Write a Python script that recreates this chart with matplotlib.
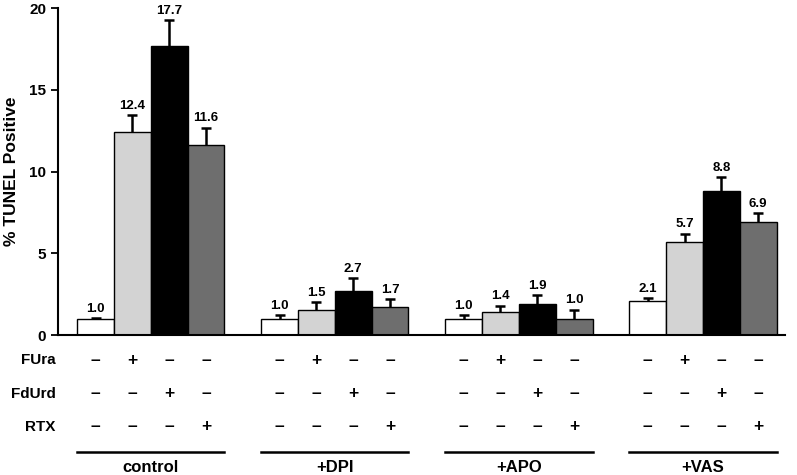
import numpy as np
import matplotlib.pyplot as plt

plt.rcParams['font.family'] = ['Liberation Sans', 'DejaVu Sans']
plt.rcParams['font.weight'] = 'bold'

groups = ['control', '+DPI', '+APO', '+VAS']
means = [[1.0, 12.4, 17.7, 11.6],
         [1.0, 1.5, 2.7, 1.7],
         [1.0, 1.4, 1.9, 1.0],
         [2.1, 5.7, 8.8, 6.9]]
errs = [[0.05, 1.05, 1.57, 1.08],
        [0.22, 0.5, 0.8, 0.5],
        [0.2, 0.4, 0.55, 0.55],
        [0.15, 0.5, 0.85, 0.55]]
colors = ['white', '#d3d3d3', 'black', '#6e6e6e']
row_names = ['FUra', 'FdUrd', 'RTX']
signs = [['–', '+', '–', '–'],
         ['–', '–', '+', '–'],
         ['–', '–', '–', '+']]

fig = plt.figure(figsize=(7.97, 4.75), dpi=100, facecolor='white')
ax = fig.add_axes([0.0728, 0.2947, 0.9122, 0.6883])

for g in range(len(groups)):
    for i in range(4):
        x = 5 * g + i
        ax.bar(x, means[g][i], width=1.0, color=colors[i], edgecolor='black',
               linewidth=1.0, zorder=2)
        eb = ax.errorbar(x, means[g][i], yerr=[[0], [errs[g][i]]], fmt='none',
                         ecolor='black', elinewidth=1.8, capsize=3.5, capthick=1.8, zorder=3)
        eb[1][0].set_visible(False)  # hide the lower cap
        ax.text(x, means[g][i] + errs[g][i] + 0.2, '%.1f' % means[g][i],
                ha='center', va='bottom', fontsize=9.5, fontweight='bold')

ax.set_xlim(-1.02, 18.73)
ax.set_ylim(0, 20)
ax.set_yticks([0, 5, 10, 15, 20])
ax.set_xticks([])
ax.tick_params(axis='y', direction='out', length=5, width=1.3, labelsize=11)
for lab in ax.get_yticklabels():
    lab.set_fontweight('bold')
ax.spines['right'].set_visible(False)
ax.spines['top'].set_visible(False)
ax.spines['left'].set_linewidth(1.5)
ax.spines['bottom'].set_linewidth(1.5)
ax.set_ylabel('% TUNEL Positive', fontsize=12.5, fontweight='bold', labelpad=7)

tr = ax.get_xaxis_transform()
row_y = [-0.0765, -0.180, -0.281]
for r in range(3):
    ax.text(-1.08, row_y[r], row_names[r], transform=tr, ha='right', va='center',
            fontsize=11, fontweight='bold', clip_on=False)
    for g in range(len(groups)):
        for i in range(4):
            ax.text(5 * g + i, row_y[r], signs[r][i], transform=tr, ha='center',
                    va='center', fontsize=12.5, fontweight='bold', clip_on=False)

for g in range(len(groups)):
    ax.plot([5 * g - 0.5, 5 * g + 3.5], [-0.358, -0.358], color='black',
            linewidth=1.8, transform=tr, clip_on=False)
    ax.text(5 * g + 1.5, -0.427, groups[g], transform=tr, ha='center', va='bottom',
            fontsize=12, fontweight='bold', clip_on=False)

plt.savefig('out.png', dpi=100, facecolor='white')
